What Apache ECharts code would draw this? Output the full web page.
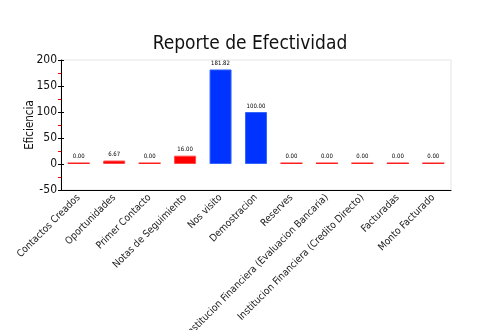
<!DOCTYPE html>
<html>
<head>
<meta charset="utf-8">
<script src="https://cdn.jsdelivr.net/npm/echarts@6/dist/echarts.min.js"></script>
<style>
  html, body { margin: 0; padding: 0; background: #fff; }
  #chart { width: 500px; height: 330px; }
</style>
</head>
<body>
<div id="chart"></div>
<script>
// Effectiveness per stage of the sales funnel
const categories = [
  'Contactos Creados', 'Oportunidades', 'Primer Contacto', 'Notas de Seguimiento',
  'Nos visito', 'Demostracion', 'Reserves',
  'Institucion Financiera (Evaluacion Bancaria)',
  'Institucion Financiera (Credito Directo)',
  'Facturadas', 'Monto Facturado'
];
const efficiency = [0, 6.67, 0, 16, 181.82, 100, 0, 0, 0, 0, 0];
const yTicks = [-50, 0, 50, 100, 150, 200];

const FONT = '"DejaVu Sans Condensed", "Liberation Sans Narrow", sans-serif';
const LOW = { fill: '#ff0000', edge: '#ff4a4a' };
const HIGH = { fill: '#0033ff', edge: '#3366ff' };
const threshold = 50;

// zero values still get a thin red stroke on the baseline
const barData = efficiency.map(v => {
  const c = v >= threshold ? HIGH : LOW;
  return {
    value: v,
    itemStyle: v === 0
      ? { color: '#ff2020', borderWidth: 0 }
      : { color: c.fill, borderColor: c.edge, borderWidth: 1 }
  };
});

const yMin = yTicks[0], yMax = yTicks[yTicks.length - 1];
const yStep = yTicks[1] - yTicks[0];

const chart = echarts.init(document.getElementById('chart'), null, { renderer: 'canvas' });
chart.setOption({
  animation: false,
  title: {
    text: 'Reporte de Efectividad',
    left: 'center',
    top: 30,
    textStyle: { fontFamily: FONT, fontSize: 19, fontWeight: 'normal', color: '#111' }
  },
  grid: {
    left: 61, right: 49, top: 60, bottom: 140,
    outerBoundsMode: 'none',
    containLabel: false,
    show: true, borderColor: '#e4e4e4', borderWidth: 1, backgroundColor: 'transparent'
  },
  xAxis: {
    type: 'category',
    data: categories,
    axisLine: { onZero: false, lineStyle: { color: '#000', width: 1 } },
    axisTick: { alignWithLabel: true, length: 4, lineStyle: { color: '#555' } },
    axisLabel: {
      rotate: 45, interval: 0, margin: 6,
      fontFamily: FONT, fontSize: 10, color: '#222'
    },
    splitLine: { show: false }
  },
  yAxis: [{
    type: 'value',
    min: yMin, max: yMax, interval: yStep,
    name: 'Eficiencia',
    nameLocation: 'middle',
    nameGap: 25,
    nameMoveOverlap: false,
    nameTextStyle: { fontFamily: FONT, fontSize: 11.5, color: '#111' },
    axisLine: { show: true, lineStyle: { color: '#000', width: 1 } },
    axisTick: { show: true, length: 3, lineStyle: { color: '#000' } },
    minorTick: { show: true, splitNumber: 2, length: 3, lineStyle: { color: '#ff0000' } },
    axisLabel: { fontFamily: FONT, fontSize: 12, color: '#111', margin: 4 },
    splitLine: { show: false }
  }, {
    type: 'value',
    position: 'left',
    offset: 0,
    min: yMin, max: yMax, interval: yStep,
    axisLine: { show: false },
    axisTick: { show: true, inside: true, length: 3, lineStyle: { color: '#000' } },
    minorTick: { show: false },
    axisLabel: { show: false },
    splitLine: { show: false }
  }],
  series: [{
    type: 'bar',
    data: barData,
    barWidth: 22,
    barMinHeight: 1.5,
    label: {
      show: true,
      position: 'top',
      distance: 3,
      formatter: p => Number(p.value).toFixed(2),
      fontFamily: FONT, fontSize: 6, color: '#000'
    }
  }]
});
</script>
</body>
</html>
